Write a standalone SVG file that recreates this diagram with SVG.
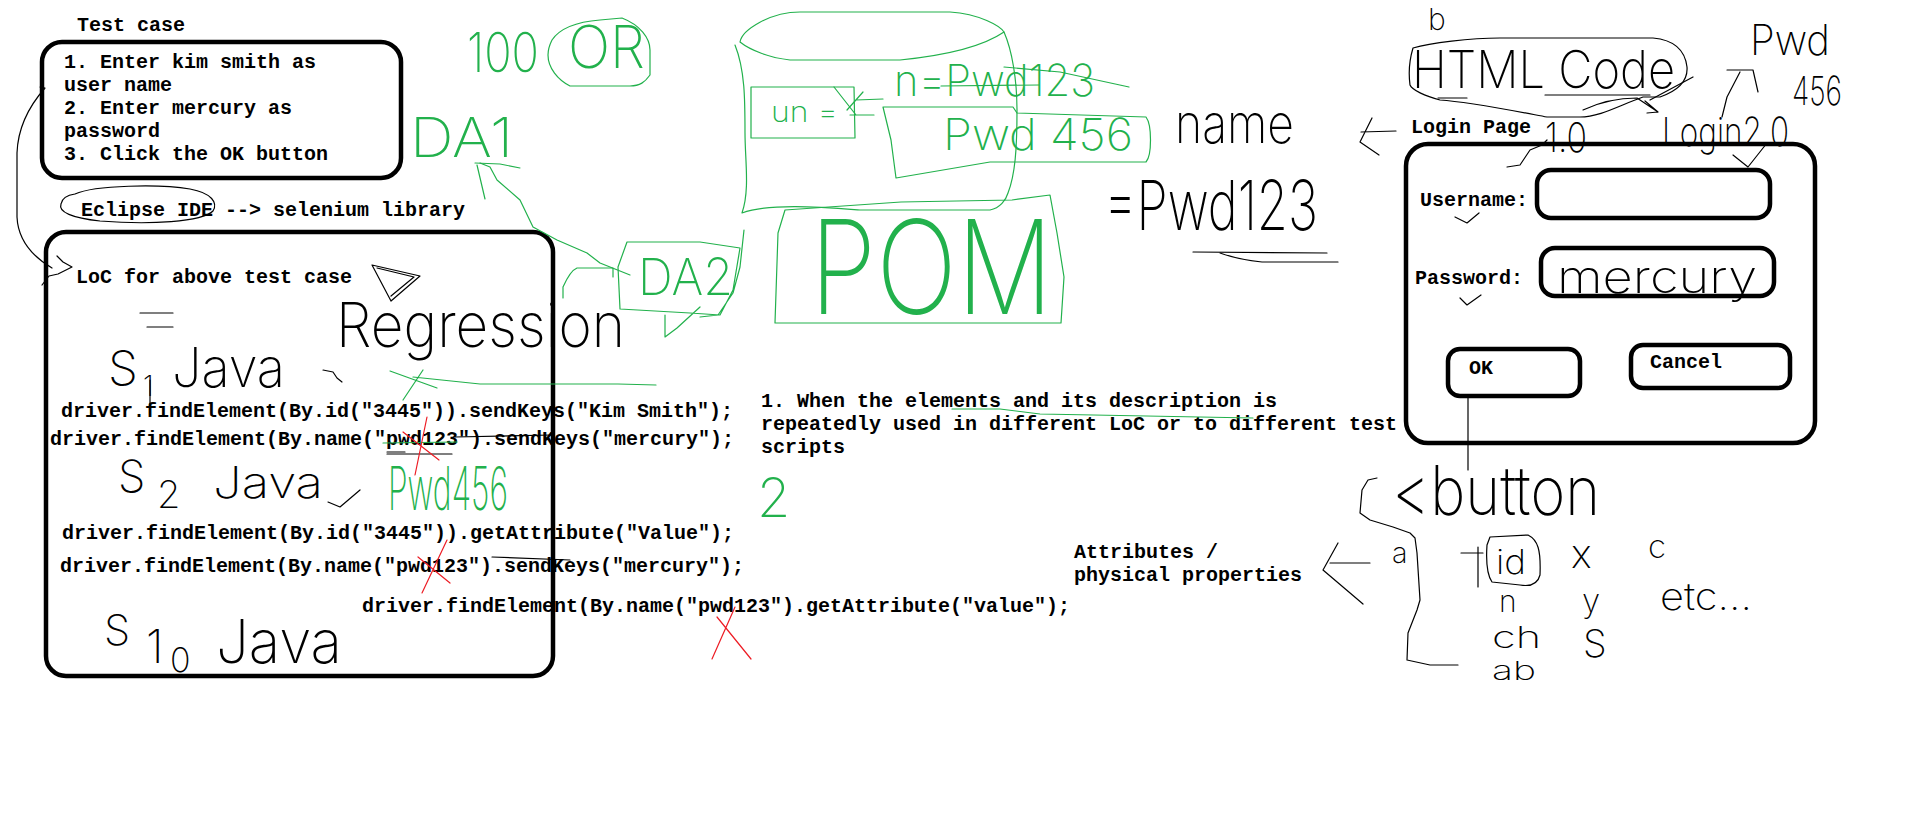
<svg xmlns="http://www.w3.org/2000/svg" width="1914" height="828" viewBox="0 0 1914 828">
<style>
.t{font-family:"Liberation Mono","Courier New",monospace;font-weight:bold;font-size:20px;fill:#000}
.hw{font-family:Inter,Lato,Roboto,"DejaVu Sans",sans-serif;font-weight:200;fill:#000}
.hg{font-family:Inter,Lato,Roboto,"DejaVu Sans",sans-serif;font-weight:200;fill:#22b14c}
.box{fill:none;stroke:#000;stroke-width:4.5}
.ln{fill:none;stroke:#000;stroke-width:1.2;stroke-linejoin:round;stroke-linecap:round}
.gl{fill:none;stroke:#22b14c;stroke-width:1.2;stroke-linejoin:round;stroke-linecap:round}
.rl{fill:none;stroke:#ed1c24;stroke-width:1.2;stroke-linecap:round}
</style>
<rect width="1914" height="828" fill="#fff"/>

<g id="test-case">
<text class="t" x="77" y="31">Test case</text>
<rect class="box" x="42" y="42" width="359" height="136" rx="20"/>
<text class="t" x="64" y="68">1. Enter kim smith as</text>
<text class="t" x="64" y="91">user name</text>
<text class="t" x="64" y="114">2. Enter mercury as</text>
<text class="t" x="64" y="137">password</text>
<text class="t" x="64" y="160">3. Click the OK button</text>
</g>

<g id="eclipse">
<text class="t" x="81" y="216">Eclipse IDE --&gt; selenium library</text>
<path class="ln" d="M75,194 C95,185 160,184 190,189 C212,193 218,203 213,211 C202,222 150,225 100,221 C72,218 58,212 61,204 C62,198 68,195 75,194"/>
</g>

<g id="loc-box">
<rect class="box" x="46" y="232" width="507" height="444" rx="20"/>
<text class="t" x="76" y="283">LoC for above test case</text>
<path class="ln" d="M372,265 L420,276 L391,301 Z M377,268 L414,277 L391,296"/>
<path class="ln" d="M140,313 L173,313 M147,327 L173,327"/>
<text class="hw" x="336" y="347" font-size="62" textLength="289" lengthAdjust="spacingAndGlyphs">Regression</text>
<text class="hw" x="108" y="385" font-size="48">S</text>
<text class="hw" x="143" y="396" font-size="28">1</text>
<path class="ln" d="M150,380 L150,406"/>
<text class="hw" x="172" y="387" font-size="55" textLength="113" lengthAdjust="spacingAndGlyphs">Java</text>
<path class="ln" d="M323,370 L333,372 L337,378 L342,382"/>
<text class="t" x="61" y="417">driver.findElement(By.id("3445")).sendKeys("Kim Smith");</text>
<text class="t" x="50" y="445">driver.findElement(By.name("pwd123").sendKeys("mercury");</text>
<text class="hw" x="118" y="492" font-size="44">S</text>
<text class="hw" x="157" y="508" font-size="38">2</text>
<text class="hw" x="213" y="498" font-size="43" textLength="110" lengthAdjust="spacingAndGlyphs">Java</text>
<path class="ln" d="M328,502 L340,507 L360,490"/>
<text class="hg" x="388" y="510" font-size="60" textLength="120" lengthAdjust="spacingAndGlyphs">Pwd456</text>
<text class="t" x="62" y="539">driver.findElement(By.id("3445")).getAttribute("Value");</text>
<text class="t" x="60" y="572">driver.findElement(By.name("pwd123").sendKeys("mercury");</text>
<text class="t" x="362" y="612">driver.findElement(By.name("pwd123").getAttribute("value");</text>
<text class="hw" x="104" y="645" font-size="42">S</text>
<text class="hw" x="146" y="663" font-size="46">1</text>
<text class="hw" x="170" y="672" font-size="34">0</text>
<text class="hw" x="216" y="663" font-size="60" textLength="126" lengthAdjust="spacingAndGlyphs">Java</text>
<path class="gl" d="M390,371 L437,388 M423,370 L403,400 M413,377 L480,384 L618,384 L656,385"/>
<path class="gl" d="M383,443 L457,442"/>
<path class="ln" d="M387,454 L452,454 M387,452 L405,452 M455,437 L552,435 M492,557 L570,560"/>
<path class="rl" d="M427,417 L415,475 M403,432 L439,460"/>
<path class="rl" d="M447,540 L422,593 M418,557 L450,583"/>
<path class="rl" d="M735,607 L712,659 M717,617 L751,659"/>
</g>

<g id="or-notes">
<text class="hg" x="467" y="72" font-size="55" textLength="72" lengthAdjust="spacingAndGlyphs">100</text>
<text class="hg" x="568" y="68" font-size="59" textLength="77" lengthAdjust="spacingAndGlyphs">OR</text>
<path class="gl" d="M552,40 C560,28 575,22 600,20 L622,18 C640,25 650,38 650,50 L650,75 C645,82 640,86 630,86 L570,86 C558,80 548,68 548,55 C548,48 550,44 552,40"/>
<text class="hg" x="410" y="157" font-size="55" textLength="103" lengthAdjust="spacingAndGlyphs">DA1</text>
</g>

<g id="da2">
<path class="gl" d="M627,242 L700,242 L740,248 L733,290 L720,315 L690,313 L620,309 L618,267 Z M665,315 L665,337 L677,328 L700,307 M563,298 L563,287 C567,278 572,270 577,268 L613,268 L613,277 M744,230 L740,267 L733,293 L718,315 L700,317"/>
<text class="hg" x="638" y="295" font-size="51" textLength="95" lengthAdjust="spacingAndGlyphs">DA2</text>
</g>

<g id="object-repo">
<path class="gl" d="M740,42 C742,30 770,12 800,12 L950,12 C980,14 1000,26 1004,32 C985,45 950,55 900,60 L790,60 C770,58 750,50 740,42 Z"/>
<path class="gl" d="M735,45 C745,70 745,100 745,133 C745,160 750,190 742,213 C770,203 820,207 860,210 L990,210 C1000,208 1006,200 1008,193 C1015,175 1017,150 1017,110 C1017,80 1012,50 1004,32"/>
<path class="gl" d="M751,87 L854,87 L855,138 L751,138 Z"/>
<text class="hg" x="771" y="122" font-size="28" textLength="67" lengthAdjust="spacingAndGlyphs">un =</text>
<path class="gl" d="M834,87 L856,115 M847,110 L863,92 M856,100 L883,99 M850,115 L874,115"/>
<text class="hg" x="894" y="96" font-size="44" textLength="201" lengthAdjust="spacingAndGlyphs">n=Pwd123</text>
<path class="gl" d="M941,86 L1039,85 M1004,67 L1060,72 L1129,87"/>
<path class="gl" d="M883,107 L1013,107 L1017,113 L1146,117 C1152,125 1152,155 1146,162 L990,162 L896,178 L891,140 Z"/>
<text class="hg" x="943" y="150" font-size="44" textLength="190" lengthAdjust="spacingAndGlyphs">Pwd 456</text>
</g>

<g id="pom">
<path class="gl" d="M785,210 L901,202 L1012,200 L1050,195 L1057,233 L1064,277 L1061,323 L775,323 L778,233 Z"/>
<text class="hg" x="810" y="314" font-size="130" textLength="243" lengthAdjust="spacingAndGlyphs">POM</text>
</g>

<g id="name-note">
<text class="hw" x="1175" y="143" font-size="55" textLength="119" lengthAdjust="spacingAndGlyphs">name</text>
<text class="hw" x="1104" y="230" font-size="69" textLength="214" lengthAdjust="spacingAndGlyphs">=Pwd123</text>
<path class="ln" d="M1193,252 L1327,253" stroke-width="2"/>
<path class="ln" d="M1220,253 Q1240,260 1262,262 L1338,262"/>
</g>

<g id="scripts-note">
<text class="t" x="761" y="407">1. When the elements and its description is</text>
<text class="t" x="761" y="430">repeatedly used in different LoC or to different test</text>
<text class="t" x="761" y="453">scripts</text>
<path class="gl" d="M952,409 L1000,409 L1040,414 L1253,418"/>
<text class="hg" x="757" y="517" font-size="54">2</text>
</g>

<g id="html-code">
<text class="hw" x="1428" y="30" font-size="30">b</text>
<text class="hw" x="1412" y="88" font-size="52" textLength="263" lengthAdjust="spacingAndGlyphs">HTML Code</text>
<path class="ln" d="M1413,48 C1430,43 1470,38 1500,38 L1653,38 C1675,40 1685,50 1687,67 C1688,80 1680,90 1660,97 L1643,97 C1620,105 1600,117 1580,117 L1547,117 C1520,112 1470,102 1440,100 C1425,96 1412,90 1410,85 C1408,70 1410,58 1413,48"/>
<path class="ln" d="M1438,98 L1467,98 M1545,95 L1650,95"/>
<text class="hw" x="1750" y="55" font-size="42" textLength="80" lengthAdjust="spacingAndGlyphs">Pwd</text>
<text class="hw" x="1792" y="105" font-size="40" textLength="50" lengthAdjust="spacingAndGlyphs">456</text>
<path class="ln" d="M1727,70 L1753,70 L1758,92 M1740,72 L1727,97 L1722,117"/>
</g>

<g id="login-page">
<text class="t" x="1411" y="133">Login Page</text>
<text class="hw" x="1545" y="152" font-size="41" textLength="42" lengthAdjust="spacingAndGlyphs">1.0</text>
<text class="hw" x="1662" y="146" font-size="40" textLength="127" lengthAdjust="spacingAndGlyphs">Login2.0</text>
<path class="ln" d="M1507,167 L1520,165 L1530,150 L1542,145 L1547,140 M1733,155 L1748,167 L1767,143"/>
<rect class="box" x="1406" y="144" width="409" height="299" rx="22"/>
<text class="t" x="1420" y="206">Username:</text>
<rect class="box" x="1537" y="170" width="233" height="48" rx="14"/>
<path class="ln" d="M1455,217 L1467,223 L1479,213"/>
<text class="t" x="1415" y="284">Password:</text>
<rect class="box" x="1541" y="248" width="233" height="48" rx="14"/>
<text class="hw" x="1557" y="293" font-size="45" textLength="200" lengthAdjust="spacingAndGlyphs">mercury</text>
<path class="ln" d="M1460,298 L1467,305 L1481,295"/>
<rect class="box" x="1448" y="349" width="132" height="47" rx="12"/>
<text class="t" x="1469" y="374">OK</text>
<rect class="box" x="1631" y="345" width="159" height="43" rx="12"/>
<text class="t" x="1650" y="368">Cancel</text>
</g>

<g id="button-attrs">
<text class="hw" x="1392" y="515" font-size="68" textLength="208" lengthAdjust="spacingAndGlyphs">&lt;button</text>
<text class="hw" x="1392" y="563" font-size="29">a</text>
<path class="ln" d="M1461,553 L1483,553 M1478,547 L1478,587"/>
<path class="ln" d="M1490,537 L1528,535 C1538,540 1541,550 1540,575 C1538,583 1532,587 1520,585 L1492,582 C1487,575 1486,560 1487,545 Z"/>
<text class="hw" x="1496" y="574" font-size="34" textLength="30" lengthAdjust="spacingAndGlyphs">id</text>
<text class="hw" x="1499" y="612" font-size="30">n</text>
<text class="hw" x="1492" y="648" font-size="30" textLength="49" lengthAdjust="spacingAndGlyphs">ch</text>
<text class="hw" x="1492" y="680" font-size="26" textLength="44" lengthAdjust="spacingAndGlyphs">ab</text>
<text class="hw" x="1571" y="568" font-size="40">x</text>
<text class="hw" x="1648" y="558" font-size="33">c</text>
<text class="hw" x="1582" y="612" font-size="33">y</text>
<text class="hw" x="1660" y="610" font-size="37" textLength="92" lengthAdjust="spacingAndGlyphs">etc...</text>
<text class="hw" x="1583" y="657" font-size="38">S</text>
<text class="t" x="1074" y="558">Attributes /</text>
<text class="t" x="1074" y="581">physical properties</text>
</g>

<g id="connectors">
<path class="ln" d="M40,87 L45,88 C30,105 18,125 17,153 L17,217 C18,238 30,255 52,268"/>
<path class="ln" d="M57,256 L63,262 L72,267 L58,274 L49,276 L42,285"/>
<path class="gl" d="M630,275 L600,263 L587,253 L557,240 L533,227 L520,200 L497,180 L490,167 L480,163"/>
<path class="gl" d="M475,163 L500,164 L520,168 M477,165 L485,199"/>
<path class="ln" d="M1361,132 L1396,131 M1372,118 L1360,142 L1379,155"/>
<path class="ln" d="M1583,110 C1600,102 1620,98 1637,98 L1658,112 M1645,101 L1658,112 L1647,113 M1650,100 L1693,77"/>
<path class="ln" d="M1468,396 L1468,470"/>
<path class="ln" d="M1377,478 L1368,480 L1362,490 L1360,513 L1370,520 L1393,527 L1410,533 L1415,538 L1417,553 L1420,600 L1417,610 L1408,633 L1407,660 L1430,665 L1458,665"/>
<path class="ln" d="M1330,563 L1370,563 M1338,543 L1323,570 L1363,604"/>
</g>
</svg>
